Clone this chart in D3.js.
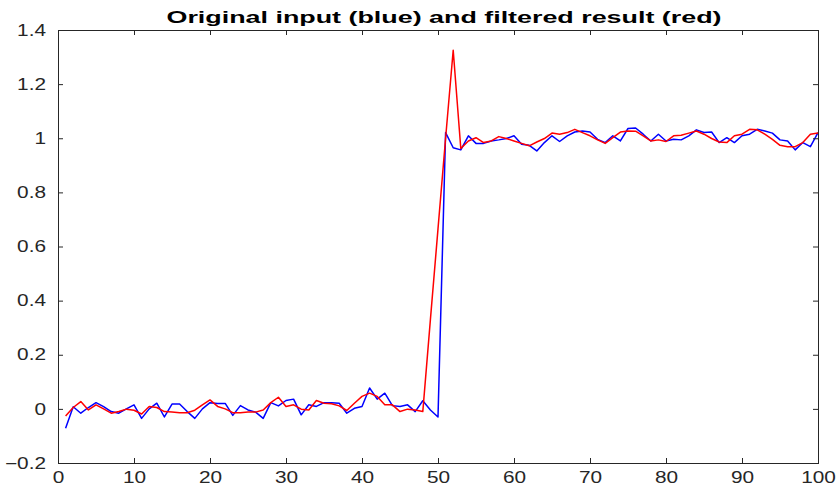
<!DOCTYPE html>
<html>
<head>
<meta charset="utf-8">
<script src="https://cdn.jsdelivr.net/npm/d3@7"></script>
<style>
  html, body { margin: 0; padding: 0; background: #fff; }
  svg { display: block; }
  .tick-label { font-family: "Liberation Sans", Arial, Helvetica, sans-serif; font-size: 16px; fill: #262626; }
  .title { font-family: "Liberation Sans", Arial, Helvetica, sans-serif; font-size: 16px; font-weight: bold; fill: #000; }
</style>
</head>
<body>
<svg id="chart" width="838" height="493"></svg>
<script>
// Sample index 1..100
const sampleIndex = d3.range(1, 101);

// Noisy step input
const inputSignal = [
  -0.072, 0.008, -0.016, 0.005, 0.023, 0.008, -0.010, -0.016, 0.000, 0.015,
  -0.035, 0.000, 0.021, -0.030, 0.018, 0.018, -0.010, -0.035, 0.000, 0.023,
  0.020, 0.020, -0.024, 0.012, -0.004, -0.012, -0.035, 0.023, 0.011, 0.031,
  0.036, -0.022, 0.015, 0.009, 0.023, 0.023, 0.021, -0.016, 0.002, 0.009,
  0.077, 0.036, 0.058, 0.012, 0.009, 0.015, -0.010, 0.030, -0.004, -0.030,
  1.021, 0.965, 0.957, 1.009, 0.981, 0.981, 0.990, 0.994, 0.999, 1.009,
  0.978, 0.974, 0.953, 0.984, 1.009, 0.988, 1.009, 1.023, 1.027, 1.023,
  0.996, 0.984, 1.009, 0.990, 1.036, 1.038, 1.015, 0.990, 1.015, 0.990,
  0.996, 0.994, 1.009, 1.031, 1.021, 1.023, 0.984, 1.002, 0.984, 1.009,
  1.015, 1.033, 1.027, 1.019, 0.994, 0.990, 0.957, 0.984, 0.969, 1.021
];

// Filter output
const filteredSignal = [
  -0.026, 0.005, 0.027, -0.004, 0.015, 0.000, -0.016, -0.010, -0.001, -0.005,
  -0.019, 0.009, 0.005, -0.010, -0.012, -0.014, -0.014, -0.005, 0.015, 0.033,
  0.009, 0.000, -0.014, -0.014, -0.012, -0.012, -0.004, 0.023, 0.043, 0.009,
  0.015, -0.001, -0.004, 0.031, 0.021, 0.019, 0.011, -0.006, 0.021, 0.046,
  0.058, 0.046, 0.015, 0.015, -0.010, -0.001, -0.004, -0.010, 0.330, 0.665,
  1.000, 1.325, 0.962, 0.990, 1.002, 0.984, 0.990, 1.006, 0.999, 0.990,
  0.981, 0.972, 0.986, 0.999, 1.019, 1.015, 1.021, 1.033, 1.021, 1.009,
  0.994, 0.981, 1.002, 1.023, 1.027, 1.026, 1.009, 0.990, 0.994, 0.988,
  1.009, 1.011, 1.019, 1.027, 1.015, 0.999, 0.986, 0.984, 1.009, 1.015,
  1.033, 1.031, 1.015, 0.996, 0.974, 0.969, 0.969, 0.984, 1.015, 1.019
];

const xTicks = [0, 10, 20, 30, 40, 50, 60, 70, 80, 90, 100];
const yTicks = [-0.2, 0, 0.2, 0.4, 0.6, 0.8, 1, 1.2, 1.4];
const chartTitle = "Original input (blue) and filtered result (red)";

const margin = { left: 58, right: 20, top: 30, bottom: 30 };
const W = 838, H = 493;
const plotW = W - margin.left - margin.right;
const plotH = H - margin.top - margin.bottom;

const svg = d3.select("#chart");
const g = svg.append("g").attr("transform", `translate(${margin.left},${margin.top})`);

const x = d3.scaleLinear().domain([0, 100]).range([0, plotW]);
const y = d3.scaleLinear().domain([-0.2, 1.4]).range([plotH, 0]);

const axisColor = "#262626";
const tickLen = 5;
const labelStretch = 1.3;

// Data lines
const line = d3.line().x((d, i) => x(sampleIndex[i])).y(d => y(d));

g.append("path")
  .datum(inputSignal)
  .attr("fill", "none")
  .attr("stroke", "#0000ff")
  .attr("stroke-width", 1.5)
  .attr("stroke-linejoin", "round")
  .attr("d", line);

g.append("path")
  .datum(filteredSignal)
  .attr("fill", "none")
  .attr("stroke", "#ff0000")
  .attr("stroke-width", 1.5)
  .attr("stroke-linejoin", "round")
  .attr("d", line);

// Box
g.append("rect")
  .attr("x", 0.5).attr("y", 0.5)
  .attr("width", plotW).attr("height", plotH)
  .attr("fill", "none")
  .attr("stroke", axisColor)
  .attr("stroke-width", 1);

// Bottom axis with inward ticks
const xAxis = d3.axisBottom(x).tickValues(xTicks).tickSizeInner(-tickLen).tickSizeOuter(0).tickPadding(9)
  .tickFormat(d3.format("d"));
const xg = g.append("g").attr("transform", `translate(0,${plotH})`).call(xAxis);
// Left axis with inward ticks
const yAxis = d3.axisLeft(y).tickValues(yTicks).tickSizeInner(-tickLen).tickSizeOuter(0).tickPadding(10)
  .tickFormat(d => d3.format("")(+d.toFixed(1)));
const yg = g.append("g").call(yAxis);
// Top and right inward ticks
const tg = g.append("g").call(d3.axisTop(x).tickValues(xTicks).tickSizeInner(-tickLen).tickSizeOuter(0).tickFormat(""));
const rg = g.append("g").attr("transform", `translate(${plotW},0)`)
  .call(d3.axisRight(y).tickValues(yTicks).tickSizeInner(-tickLen).tickSizeOuter(0).tickFormat(""));

[xg, yg, tg, rg].forEach(a => {
  a.select(".domain").remove();
  a.selectAll(".tick line").attr("stroke", axisColor);
  a.selectAll(".tick text").attr("class", "tick-label").attr("font-family", null).attr("font-size", null);
});

// Slightly wide tick lettering
xg.selectAll(".tick text").attr("transform", `scale(${labelStretch},1)`);
yg.selectAll(".tick text").attr("x", 0).attr("transform", `translate(-12,0) scale(${labelStretch},1)`);

// Title
svg.append("text")
  .attr("class", "title")
  .attr("x", 444)
  .attr("y", 23)
  .attr("text-anchor", "middle")
  .attr("textLength", 555)
  .attr("lengthAdjust", "spacingAndGlyphs")
  .text(chartTitle);
</script>
</body>
</html>
